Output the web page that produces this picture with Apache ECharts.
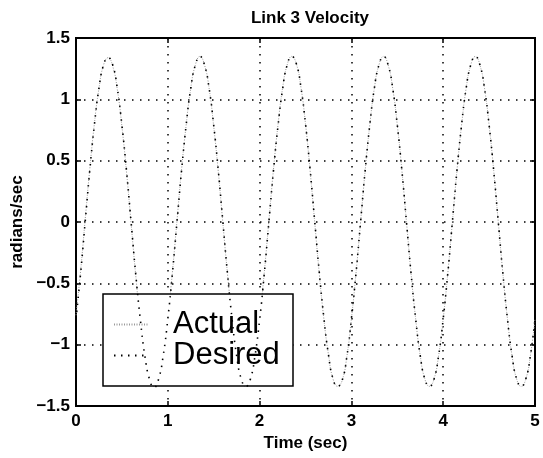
<!DOCTYPE html>
<html>
<head>
<meta charset="utf-8">
<script src="https://cdn.jsdelivr.net/npm/echarts@6/dist/echarts.min.js"></script>
<style>html,body{margin:0;padding:0;background:#fff;}#c{width:543px;height:458px;}</style>
</head>
<body>
<div id="c"></div>
<script>
const titleText = 'Link 3 Velocity';
const xName = 'Time (sec)';
const yName = 'radians/sec';
const seriesNames = ['Actual', 'Desired'];

const time = [
  0.00,0.05,0.10,0.15,0.20,0.25,0.30,0.35,0.40,0.45,0.50,0.55,0.60,0.65,0.70,0.75,0.80,0.85,0.90,0.95,
  1.00,1.05,1.10,1.15,1.20,1.25,1.30,1.35,1.40,1.45,1.50,1.55,1.60,1.65,1.70,1.75,1.80,1.85,1.90,1.95,
  2.00,2.05,2.10,2.15,2.20,2.25,2.30,2.35,2.40,2.45,2.50,2.55,2.60,2.65,2.70,2.75,2.80,2.85,2.90,2.95,
  3.00,3.05,3.10,3.15,3.20,3.25,3.30,3.35,3.40,3.45,3.50,3.55,3.60,3.65,3.70,3.75,3.80,3.85,3.90,3.95,
  4.00,4.05,4.10,4.15,4.20,4.25,4.30,4.35,4.40,4.45,4.50,4.55,4.60,4.65,4.70,4.75,4.80,4.85,4.90,4.95,
  5.00
];

const desired = [
  -0.79,-0.42,0.00,0.42,0.79,1.09,1.28,1.34,1.28,1.09,0.79,0.42,0.00,-0.42,-0.79,-1.09,-1.28,-1.35,-1.28,-1.09,
  -0.79,-0.42,0.00,0.42,0.79,1.09,1.28,1.35,1.28,1.09,0.79,0.42,0.00,-0.42,-0.79,-1.09,-1.28,-1.34,-1.28,-1.09,
  -0.80,-0.43,-0.01,0.41,0.78,1.08,1.28,1.35,1.29,1.10,0.80,0.43,0.01,-0.41,-0.78,-1.08,-1.28,-1.34,-1.29,-1.10,
  -0.79,-0.42,0.00,0.42,0.79,1.09,1.28,1.35,1.28,1.09,0.79,0.42,0.00,-0.42,-0.79,-1.09,-1.28,-1.34,-1.28,-1.09,
  -0.79,-0.42,0.00,0.42,0.79,1.09,1.28,1.35,1.28,1.09,0.79,0.42,0.00,-0.42,-0.79,-1.09,-1.28,-1.34,-1.28,-1.09,
  -0.79
];

const actual = [
  -0.76,-0.40,0.02,0.43,0.80,1.09,1.28,1.34,1.27,1.08,0.78,0.41,-0.01,-0.43,-0.80,-1.09,-1.28,-1.34,-1.28,-1.09,
  -0.78,-0.41,0.01,0.43,0.79,1.09,1.28,1.35,1.28,1.09,0.78,0.41,-0.01,-0.42,-0.79,-1.09,-1.28,-1.34,-1.28,-1.09,
  -0.79,-0.42,0.00,0.42,0.79,1.09,1.28,1.35,1.29,1.10,0.80,0.42,0.00,-0.42,-0.79,-1.08,-1.28,-1.34,-1.29,-1.10,
  -0.79,-0.42,0.00,0.42,0.79,1.09,1.28,1.35,1.28,1.09,0.79,0.42,0.00,-0.42,-0.79,-1.09,-1.28,-1.34,-1.28,-1.09,
  -0.79,-0.42,0.00,0.42,0.79,1.09,1.28,1.35,1.28,1.09,0.79,0.42,0.00,-0.42,-0.79,-1.09,-1.28,-1.34,-1.28,-1.09,
  -0.79
];

const pairs = (xs, ys) => xs.map((x, i) => [x, ys[i]]);
const FONT = '"Liberation Sans", Arial, Helvetica, sans-serif';
const fmtNum = v => String(v).replace('-', '\u2212');
const tick = { inside: true, length: 5, lineStyle: { color: '#000', width: 1.5 } };
const boldText = { fontFamily: FONT, fontSize: 17, fontWeight: 'bold', color: '#000' };
const gridDots = { show: true, lineStyle: { color: '#000', width: 1.5, type: [1.5, 6.5] } };

const chart = echarts.init(document.getElementById('c'), null, { renderer: 'canvas' });
chart.setOption({
  animation: false,
  backgroundColor: '#fff',
  title: {
    text: titleText,
    left: 305,
    top: 5,
    textAlign: 'center',
    textStyle: boldText
  },
  grid: {
    left: 76, right: 8, top: 38, bottom: 52,
    show: true, borderColor: '#000', borderWidth: 2, backgroundColor: 'transparent'
  },
  legend: {
    data: seriesNames,
    orient: 'vertical',
    left: 103,
    top: 294,
    padding: [15, 9, 15, 10],
    itemWidth: 35,
    itemHeight: 14,
    itemGap: 0,
    selectedMode: false,
    backgroundColor: '#fff',
    borderColor: '#000',
    borderWidth: 1.5,
    itemStyle: { opacity: 0 },
    textStyle: {
      fontFamily: FONT, fontSize: 31, lineHeight: 29.5, color: '#000',
      padding: [0, 0, 0, 19], width: 111
    }
  },
  xAxis: [{
    type: 'value', min: 0, max: 5, interval: 1, position: 'bottom',
    name: xName, nameLocation: 'middle', nameGap: 26,
    nameTextStyle: boldText,
    axisLine: { show: false, onZero: false },
    axisTick: tick,
    axisLabel: Object.assign({ margin: 7, formatter: fmtNum }, boldText),
    splitLine: gridDots
  }, {
    type: 'value', min: 0, max: 5, interval: 1, position: 'top',
    axisLine: { show: false, onZero: false },
    axisTick: tick,
    axisLabel: { show: false },
    splitLine: { show: false }
  }],
  yAxis: [{
    type: 'value', min: -1.5, max: 1.5, interval: 0.5, position: 'left',
    name: yName, nameLocation: 'middle', nameGap: 43, nameRotate: 90,
    nameTextStyle: boldText,
    axisLine: { show: false, onZero: false },
    axisTick: tick,
    axisLabel: Object.assign({ margin: 6, formatter: fmtNum }, boldText),
    splitLine: gridDots
  }, {
    type: 'value', min: -1.5, max: 1.5, interval: 0.5, position: 'right',
    axisLine: { show: false, onZero: false },
    axisTick: tick,
    axisLabel: { show: false },
    splitLine: { show: false }
  }],
  series: [{
    name: seriesNames[0],
    type: 'line',
    data: pairs(time, actual),
    smooth: 0.5,
    symbol: 'none',
    showSymbol: false,
    color: '#9a9a9a',
    lineStyle: { color: '#9a9a9a', width: 1, type: [1, 1.5] },
    z: 3
  }, {
    name: seriesNames[1],
    type: 'line',
    data: pairs(time, desired),
    smooth: 0.5,
    symbol: 'none',
    showSymbol: false,
    color: '#000',
    lineStyle: { color: '#000', width: 1.6, type: [1.5, 5.5] },
    z: 4
  }]
});
</script>
</body>
</html>
